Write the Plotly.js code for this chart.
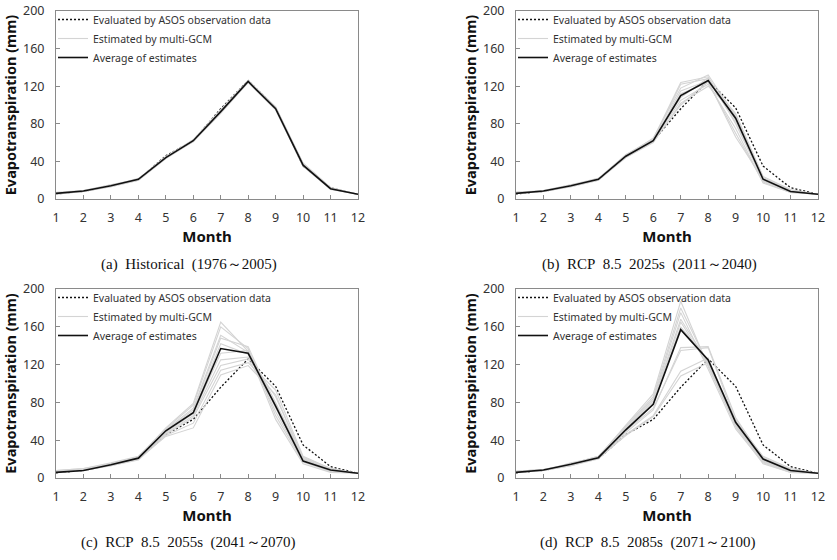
<!DOCTYPE html>
<html>
<head>
<meta charset="utf-8">
<script src="https://cdn.plot.ly/plotly-3.0.1.min.js"></script>
<style>html,body{margin:0;padding:0;background:#fff;}#chart{width:837px;height:560px;}</style>
</head>
<body>
<div id="chart"></div>
<script>
// ---------- DATA ----------
const months = [1,2,3,4,5,6,7,8,9,10,11,12];
const xTickLabels = ['1','2','3','4','5','6','7','8','9','10','11','12'];
const yTickVals = [0,40,80,120,160,200];

const legendNames = ['Evaluated by ASOS observation data','Estimated by multi-GCM','Average of estimates'];
const panelCaptions = [
  '(a)\u00a0 Historical\u00a0 (1976～2005)',
  '(b)\u00a0 RCP\u00a0 8.5\u00a0 2025s\u00a0 (2011～2040)',
  '(c)\u00a0 RCP\u00a0 8.5\u00a0 2055s\u00a0 (2041～2070)',
  '(d)\u00a0 RCP\u00a0 8.5\u00a0 2085s\u00a0 (2071～2100)'
];

// observed (same in every panel)
const obs = [5.5, 8, 14, 20.5, 46, 62, 96, 126, 97, 35, 12, 5];

// (a) Historical
const histAvg = [6, 8.5, 14, 21, 44, 62, 93, 125, 96, 36, 11, 5];
const histGCM = [
  [6, 8, 14, 21, 44, 62, 94, 125, 96, 36, 11, 5],
  [6, 9, 15, 21, 45, 63, 95, 126, 98, 37, 12, 5],
  [5, 8, 13, 20, 43, 61, 92, 124, 95, 35, 11, 5],
  [6, 8, 14, 22, 44, 62, 93, 126, 97, 38, 12, 5],
  [6, 9, 14, 21, 45, 61, 91, 124, 95, 35, 10, 5],
  [7, 9, 15, 21, 44, 63, 94, 125, 97, 36, 11, 5],
  [6, 8, 13, 20, 43, 62, 92, 126, 96, 37, 12, 5],
  [6, 8, 14, 21, 44, 61, 93, 124, 95, 35, 11, 5],
  [5, 8, 14, 21, 45, 62, 94, 125, 98, 38, 12, 5],
  [6, 9, 14, 20, 44, 63, 92, 126, 96, 36, 11, 5]
];

// (b) RCP 8.5 2025s
const rcp2025Avg = [6, 8.5, 14, 21, 45.5, 62, 110, 126, 86, 21, 8, 5];
const rcp2025GCM = [
  [6, 8, 14, 21, 47, 64, 124, 130, 80, 20, 8, 5],
  [7, 9, 15, 21, 46, 63, 122, 128, 84, 22, 9, 5],
  [6, 8, 14, 22, 45, 65, 118, 132, 88, 21, 8, 5],
  [6, 9, 14, 21, 46, 62, 115, 126, 91, 24, 10, 5],
  [7, 8, 13, 20, 44, 61, 112, 124, 70, 18, 7, 5],
  [6, 8, 14, 21, 45, 63, 108, 129, 86, 19, 8, 5],
  [6, 9, 15, 22, 47, 62, 105, 122, 75, 17, 7, 5],
  [7, 8, 14, 21, 44, 60, 102, 120, 90, 23, 9, 5],
  [6, 8, 13, 20, 45, 61, 100, 125, 66, 21, 8, 5],
  [6, 9, 14, 21, 46, 64, 110, 127, 82, 20, 9, 5]
];

// (c) RCP 8.5 2055s
const rcp2055Avg = [6, 8, 14, 21, 50, 69, 137, 132, 76, 18, 8.5, 5];
const rcp2055GCM = [
  [7, 9, 15, 22, 53, 79, 165, 134, 62, 15, 6, 5],
  [6, 8, 14, 21, 52, 77, 160, 137, 66, 17, 7, 5],
  [8, 10, 16, 23, 51, 74, 151, 133, 70, 18, 8, 5],
  [6, 9, 15, 22, 50, 72, 148, 139, 74, 19, 8, 5],
  [7, 9, 14, 21, 49, 70, 142, 131, 78, 20, 9, 5],
  [6, 8, 13, 20, 48, 68, 132, 135, 80, 21, 9, 5],
  [7, 9, 15, 22, 47, 66, 125, 128, 86, 22, 10, 5],
  [6, 8, 14, 21, 46, 64, 119, 126, 76, 18, 8, 5],
  [6, 8, 13, 19, 45, 58, 114, 122, 93, 23, 10, 5],
  [8, 10, 15, 20, 44, 53, 109, 119, 88, 20, 9, 5]
];

// (d) RCP 8.5 2085s
const rcp2085Avg = [6, 8.5, 14.5, 21.5, 51, 78, 157, 125, 59, 20, 8, 5];
const rcp2085GCM = [
  [6, 8, 14, 22, 56, 89, 187, 118, 55, 17, 7, 5],
  [7, 9, 15, 23, 55, 86, 180, 120, 58, 19, 8, 5],
  [6, 8, 16, 22, 54, 84, 175, 115, 52, 16, 6, 5],
  [6, 9, 14, 21, 53, 82, 168, 122, 60, 21, 9, 5],
  [7, 9, 15, 23, 52, 80, 165, 119, 57, 18, 8, 5],
  [6, 8, 13, 22, 50, 78, 160, 124, 62, 22, 9, 5],
  [6, 8, 15, 21, 48, 72, 138, 139, 64, 20, 8, 5],
  [7, 9, 14, 22, 50, 74, 135, 138, 60, 23, 10, 5],
  [6, 8, 13, 20, 46, 66, 113, 127, 56, 18, 7, 5],
  [6, 8, 14, 21, 45, 65, 108, 122, 54, 15, 6, 5]
];

const panels = [
  {gcm: histGCM, avg: histAvg},
  {gcm: rcp2025GCM, avg: rcp2025Avg},
  {gcm: rcp2055GCM, avg: rcp2055Avg},
  {gcm: rcp2085GCM, avg: rcp2085Avg}
];

// ---------- LAYOUT GEOMETRY ----------
const W = 837, H = 560;
const boxes = [
  {l: 56, r: 358, t: 11, b: 199},
  {l: 516, r: 818, t: 11, b: 199},
  {l: 56, r: 358, t: 289, b: 478},
  {l: 516, r: 818, t: 289, b: 478}
];
const captionPos = [{x: 189, y: 264}, {x: 649, y: 264}, {x: 188, y: 542}, {x: 647, y: 542}];

const traces = [];
const layout = {
  width: W, height: H,
  margin: {l: 0, r: 0, t: 0, b: 0},
  paper_bgcolor: '#fff', plot_bgcolor: '#fff',
  font: {family: 'Noto Sans, Open Sans, sans-serif', color: '#333'},
  showlegend: true,
  annotations: []
};

panels.forEach((p, i) => {
  const n = i + 1;
  const xa = n === 1 ? 'x' : 'x' + n;
  const ya = n === 1 ? 'y' : 'y' + n;
  const lg = n === 1 ? 'legend' : 'legend' + n;
  const bx = boxes[i];

  // observed
  traces.push({x: months, y: obs, xaxis: xa, yaxis: ya, mode: 'lines', name: legendNames[0],
    legend: lg, line: {color: '#111', width: 1.3, dash: '2px,2px'}, hoverinfo: 'skip', legendrank: 1});
  // GCM
  p.gcm.forEach((g, k) => {
    traces.push({x: months, y: g, xaxis: xa, yaxis: ya, mode: 'lines', name: legendNames[1],
      legend: lg, showlegend: k === 0, legendgroup: 'g' + n,
      line: {color: '#d4d4d4', width: 1.1}, hoverinfo: 'skip', legendrank: 2});
  });
  // average
  traces.push({x: months, y: p.avg, xaxis: xa, yaxis: ya, mode: 'lines', name: legendNames[2],
    legend: lg, line: {color: '#111', width: 1.6}, hoverinfo: 'skip', legendrank: 3});

  const axCommon = {showline: true, mirror: true, linecolor: '#8a8a8a', linewidth: 1,
    ticks: 'inside', ticklen: 4, tickcolor: '#8a8a8a', showgrid: false, zeroline: false,
    tickfont: {size: 12.5, color: '#333', family: 'Noto Sans, sans-serif'}};

  layout[n === 1 ? 'xaxis' : 'xaxis' + n] = Object.assign({}, axCommon, {
    domain: [bx.l / W, bx.r / W], anchor: ya, range: [1, 12],
    tickvals: months, ticktext: xTickLabels, ticklabelstandoff: 7,
    title: {text: 'Month', font: {size: 15, color: '#111', weight: 'bold', family: 'Noto Sans, sans-serif'}, standoff: 0}
  });
  layout[n === 1 ? 'yaxis' : 'yaxis' + n] = Object.assign({}, axCommon, {
    domain: [1 - bx.b / H, 1 - bx.t / H], anchor: xa, range: [0, 200],
    tickvals: yTickVals, ticklabelstandoff: 8,
    title: {text: 'Evapotranspiration (mm)', font: {size: 14.5, color: '#111', weight: 'bold', family: 'Noto Sans, sans-serif'}, standoff: 2}
  });

  layout[lg] = {x: (bx.l - 3) / W, y: 1 - (bx.t - 6) / H, xanchor: 'left', yanchor: 'top',
    bgcolor: 'rgba(0,0,0,0)', borderwidth: 0, traceorder: 'normal',
    font: {size: 10.5, color: '#333', family: 'Noto Sans, sans-serif'}, tracegroupgap: 0, itemwidth: 30};

  layout.annotations.push({text: panelCaptions[i], xref: 'paper', yref: 'paper',
    x: captionPos[i].x / W, y: 1 - captionPos[i].y / H, xanchor: 'center', yanchor: 'middle',
    showarrow: false, font: {family: 'Liberation Serif, Times New Roman, serif', size: 15, color: '#111'}});
});

Plotly.newPlot('chart', traces, layout, {displayModeBar: false, staticPlot: true});
</script>
</body>
</html>
